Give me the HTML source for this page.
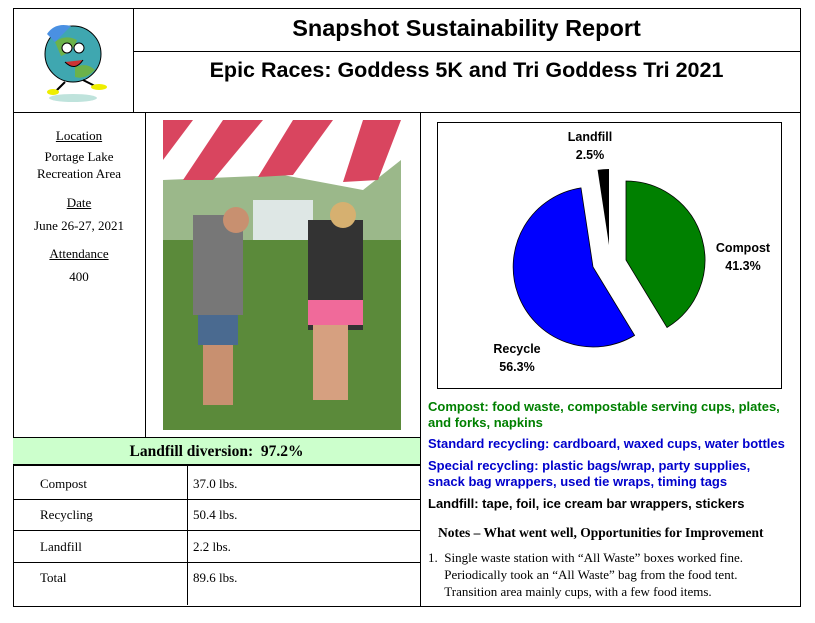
<!DOCTYPE html>
<html><head><meta charset="utf-8"><style>
body{margin:0;width:815px;height:623px;background:#fff;position:relative;overflow:hidden;font-family:"Liberation Serif",serif;}
.a{position:absolute;}
.h{background:#000;position:absolute;height:1px;}
.v{background:#000;position:absolute;width:1px;}
.t{font-family:"Liberation Sans",sans-serif;font-weight:bold;}
.c{text-align:center;}
.s{font-family:"Liberation Sans",sans-serif;font-weight:bold;font-size:13px;line-height:16px;white-space:nowrap;}
</style></head><body>
<div class="a" style="left:13px;top:8px;width:786px;height:597px;border:1px solid #000;"></div>
<div class="v" style="left:133px;top:8px;height:104px;"></div>
<div class="h" style="left:133px;top:51px;width:667px;"></div>
<div class="h" style="left:13px;top:112px;width:787px;"></div>
<div class="v" style="left:420px;top:112px;height:494px;"></div>
<div class="v" style="left:145px;top:112px;height:325px;"></div>
<div class="a" style="left:13px;top:437px;width:407px;height:29px;background:#ccffcc;border-top:1px solid #000;border-bottom:2px solid #000;box-sizing:border-box;"></div>
<div class="h" style="left:13px;top:499px;width:407px;"></div>
<div class="h" style="left:13px;top:530px;width:407px;"></div>
<div class="h" style="left:13px;top:562px;width:407px;"></div>
<div class="v" style="left:187px;top:466px;height:139px;"></div>

<svg class="a" style="left:25px;top:12px" width="100" height="95">
<ellipse cx="48" cy="86" rx="24" ry="4" fill="#bfe3dc"/>
<circle cx="48" cy="42" r="28" fill="#3fa7b0" stroke="#000"/>
<path d="M30 30 Q40 22 52 28 Q48 40 36 44 Z" fill="#6cb24a"/>
<path d="M50 55 Q62 50 70 58 Q60 68 50 65 Z" fill="#6cb24a"/>
<path d="M22 22 Q30 10 46 14 L30 30 Z" fill="#4a90e2"/>
<circle cx="42" cy="36" r="5" fill="#fff" stroke="#000"/><circle cx="54" cy="36" r="5" fill="#fff" stroke="#000"/>
<path d="M40 50 Q50 60 58 48" fill="#c33" stroke="#000"/>
<path d="M40 70 L30 80" stroke="#000" stroke-width="2"/><ellipse cx="28" cy="80" rx="6" ry="3" fill="#ee0"/>
<path d="M58 68 L70 74" stroke="#000" stroke-width="2"/><ellipse cx="74" cy="75" rx="8" ry="3" fill="#ee0"/>
</svg>

<div class="a t c" style="left:133px;top:15px;width:667px;font-size:23.5px;">Snapshot Sustainability Report</div>
<div class="a t c" style="left:133px;top:58px;width:667px;font-size:21.5px;">Epic Races: Goddess 5K and Tri Goddess Tri 2021</div>

<div class="a c" style="left:13px;top:127px;width:132px;font-size:13px;line-height:17px;">
<u>Location</u><br><div style="height:4px"></div>Portage Lake<br>Recreation Area<br><div style="height:12px"></div><u>Date</u><br><div style="height:6px"></div>June 26-27, 2021<br><div style="height:11px"></div><u>Attendance</u><br><div style="height:6px"></div>400</div>

<svg class="a" style="left:163px;top:120px" width="238" height="310">
<rect width="238" height="310" fill="#5b8a3a"/>
<rect y="0" width="238" height="120" fill="#9bb88a"/>
<path d="M0 0 H238 V40 L200 70 L120 55 L0 60 Z" fill="#fff"/>
<path d="M0 0 L30 0 L0 40 Z M60 0 L100 0 L50 60 L20 60 Z M130 0 L170 0 L130 55 L95 57 Z M200 0 L238 0 L215 60 L180 62 Z" fill="#d9455f"/>
<rect x="90" y="80" width="60" height="40" fill="#e6ecee" opacity=".9"/>
<rect x="30" y="95" width="50" height="100" fill="#777"/>
<rect x="145" y="100" width="55" height="110" fill="#333"/>
<rect x="35" y="195" width="40" height="30" fill="#4a6a90"/>
<rect x="145" y="180" width="55" height="25" fill="#f06a9a"/>
<circle cx="73" cy="100" r="13" fill="#c89070"/><circle cx="180" cy="95" r="13" fill="#d6b070"/>
<rect x="40" y="225" width="30" height="60" fill="#c89070"/><rect x="150" y="205" width="35" height="75" fill="#d6a080"/>
</svg>

<div class="a c" style="left:13px;top:443px;width:407px;font-size:15.5px;font-weight:bold;">Landfill diversion:&nbsp; 97.2%</div>
<div class="a" style="left:40px;top:476px;font-size:13px;">Compost</div>
<div class="a" style="left:193px;top:476px;font-size:13px;">37.0 lbs.</div>
<div class="a" style="left:40px;top:507px;font-size:13px;">Recycling</div>
<div class="a" style="left:193px;top:507px;font-size:13px;">50.4 lbs.</div>
<div class="a" style="left:40px;top:539px;font-size:13px;">Landfill</div>
<div class="a" style="left:193px;top:539px;font-size:13px;">2.2 lbs.</div>
<div class="a" style="left:40px;top:570px;font-size:13px;">Total</div>
<div class="a" style="left:193px;top:570px;font-size:13px;">89.6 lbs.</div>

<div class="a" style="left:437px;top:122px;width:343px;height:265px;border:1px solid #000;"></div>
<svg class="a" style="left:0;top:0" width="815" height="623">
<path d="M626 260 L626 181 A79 79 0 0 1 667 327.5 Z" fill="#008000" stroke="#000" stroke-width="0.8"/>
<path d="M593 267 L634.6 335.4 A80 80 0 1 1 581 187.9 Z" fill="#0000ff" stroke="#000" stroke-width="0.8"/>
<path d="M609 245 L597.6 169.9 A76 76 0 0 1 609 169 Z" fill="#000"/>
</svg>
<div class="a t c" style="left:550px;top:128px;width:80px;font-size:12.5px;line-height:18px;">Landfill<br>2.5%</div>
<div class="a t c" style="left:703px;top:239px;width:80px;font-size:12.5px;line-height:18px;">Compost<br>41.3%</div>
<div class="a t c" style="left:477px;top:340px;width:80px;font-size:12.5px;line-height:18px;">Recycle<br>56.3%</div>

<div class="a s" style="left:428px;top:399px;color:#008000;">Compost: food waste, compostable serving cups, plates,<br>and forks, napkins</div>
<div class="a s" style="left:428px;top:436px;color:#0000cc;">Standard recycling: cardboard, waxed cups, water bottles</div>
<div class="a s" style="left:428px;top:458px;color:#0000cc;">Special recycling: plastic bags/wrap, party supplies,<br>snack bag wrappers, used tie wraps, timing tags</div>
<div class="a s" style="left:428px;top:496px;color:#000;">Landfill: tape, foil, ice cream bar wrappers, stickers</div>
<div class="a" style="left:438px;top:525px;font-size:13.5px;font-weight:bold;">Notes – What went well, Opportunities for Improvement</div>
<div class="a" style="left:428px;top:549px;font-size:13px;line-height:17px;">1.&nbsp; Single waste station with “All Waste” boxes worked fine.<br>&nbsp;&nbsp;&nbsp;&nbsp;&nbsp;Periodically took an “All Waste” bag from the food tent.<br>&nbsp;&nbsp;&nbsp;&nbsp;&nbsp;Transition area mainly cups, with a few food items.</div>
</body></html>
